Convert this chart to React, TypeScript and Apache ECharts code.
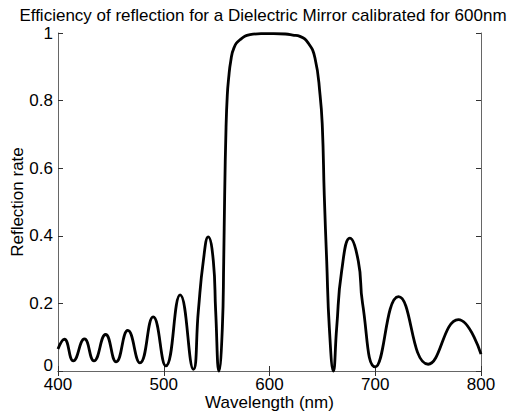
import React, { useEffect, useRef } from "react";
import * as echarts from "echarts";

const titleText = "Efficiency of reflection for a Dielectric Mirror calibrated for 600nm";
const xName = "Wavelength (nm)";
const yName = "Reflection rate";

const wavelengths = [
  400, 406, 414.5, 425, 434, 445, 455, 466, 477.5, 490, 502, 515.5, 528, 532.7, 537.4, 542,
  546.9, 549.1, 552.2, 555.4, 556.7, 557.6, 558.9, 560.1, 561.4, 563.3, 566.4, 572.1, 581.6,
  592, 604, 615, 622, 628.8, 636.7, 643, 647.8, 650, 651.8, 654.1, 656.6, 660.4, 663.5,
  668.2, 676, 684, 688, 700, 722, 750, 778.6, 800,
];
const reflectance = [
  0.065, 0.094, 0.03, 0.095, 0.03, 0.108, 0.027, 0.12, 0.024, 0.16, 0.015, 0.225, 0.005,
  0.177, 0.325, 0.397, 0.325, 0.177, 0, 0.127, 0.325, 0.52, 0.72, 0.817, 0.867, 0.916, 0.956,
  0.98, 0.995, 0.998, 0.998, 0.997, 0.994, 0.99, 0.97, 0.926, 0.817, 0.72, 0.52, 0.325, 0.127,
  0, 0.127, 0.295, 0.393, 0.325, 0.2, 0.012, 0.22, 0.02, 0.152, 0.05,
];

export default function App() {
  const ref = useRef<HTMLDivElement>(null);
  useEffect(() => {
    if (!ref.current) return;
    const chart = echarts.init(ref.current, null, { renderer: "svg" });
    const font = "'Liberation Sans', Arial, Helvetica, sans-serif";
    const axisLine = { show: true, lineStyle: { color: "#666", width: 1 } };
    const tick = { show: true, inside: true, length: 5, lineStyle: { color: "#333" } };
    chart.setOption({
      animation: false,
      backgroundColor: "#fff",
      textStyle: { fontFamily: font },
      title: {
        text: titleText,
        left: "center",
        top: 2,
        textStyle: { fontSize: 17, fontWeight: "normal", color: "#000", fontFamily: font },
      },
      grid: { left: 58, right: 45, top: 33, bottom: 46, outerBoundsMode: "none", containLabel: false },
      xAxis: [
        {
          type: "value",
          min: 400,
          max: 800,
          interval: 100,
          position: "bottom",
          axisLine,
          axisTick: tick,
          splitLine: { show: false },
          axisLabel: { fontSize: 17, color: "#000", margin: 5, fontFamily: font },
          name: xName,
          nameLocation: "middle",
          nameGap: 23,
          nameMoveOverlap: false,
          nameTextStyle: { fontSize: 17, color: "#000", fontFamily: font },
        },
        {
          type: "value",
          min: 400,
          max: 800,
          interval: 100,
          position: "top",
          axisLine,
          axisTick: tick,
          splitLine: { show: false },
          axisLabel: { show: false },
        },
      ],
      yAxis: [
        {
          type: "value",
          min: 0,
          max: 1,
          interval: 0.2,
          position: "left",
          axisLine,
          axisTick: tick,
          splitLine: { show: false },
          axisLabel: {
            fontSize: 17,
            color: "#000",
            margin: 5,
            fontFamily: font,
            formatter: (v: number) => (v === 0 ? "{z|0}" : String(Math.round(v * 10) / 10)),
            rich: { z: { fontSize: 17, color: "#000", fontFamily: font, padding: [0, 0, 12, 0] } },
          },
          name: yName,
          nameLocation: "middle",
          nameGap: 32,
          nameMoveOverlap: false,
          nameTextStyle: { fontSize: 17, color: "#000", fontFamily: font },
        },
        {
          type: "value",
          min: 0,
          max: 1,
          interval: 0.2,
          position: "right",
          axisLine,
          axisTick: tick,
          splitLine: { show: false },
          axisLabel: { show: false },
        },
      ],
      series: [
        {
          type: "line",
          data: wavelengths.map((w, i) => [w, reflectance[i]]),
          showSymbol: false,
          smooth: 0.5,
          lineStyle: { color: "#000", width: 2.8 },
          clip: false,
        },
      ],
    });
    return () => chart.dispose();
  }, []);
  return (
    <div
      ref={ref}
      style={{ position: "absolute", left: 0, top: 0, width: 526, height: 417 }}
    />
  );
}
